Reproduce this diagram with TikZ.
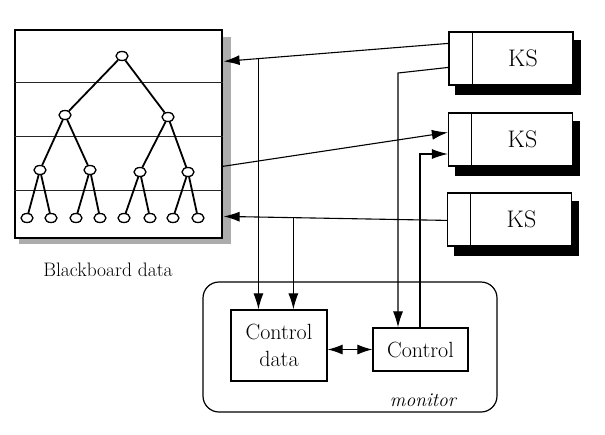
\documentclass[tikz,border=0pt]{standalone}
\usetikzlibrary{arrows.meta,shapes.geometric,backgrounds,calc}
\begin{document}
\begin{tikzpicture}[x=1pt,y=-1pt,
  tn/.style={draw,ellipse,minimum width=12pt,minimum height=9pt,inner sep=0pt,line width=1.3pt,fill=white},
  te/.style={line width=1.8pt},
  hl/.style={line width=1pt,black!85},
  ksbox/.style={draw,line width=1.2pt,fill=white,minimum width=124pt,minimum height=53pt,inner sep=0pt,font=\fontsize{24}{28}\selectfont},
  box/.style={draw,line width=1.2pt,fill=white,inner sep=0pt,align=center,font=\fontsize{22}{27}\selectfont},
  ar/.style={-{Latex[length=16pt,width=10pt]},line width=1.1pt},
  dar/.style={{Latex[length=15pt,width=10pt]}-{Latex[length=15pt,width=10pt]},line width=1.1pt},
  ksshadow/.style={fill=black},
  bbshadow/.style={fill=gray!65}
]
\useasboundingbox (0,0) rectangle (605,434);

% Blackboard
\node[draw,line width=1.2pt,fill=white,minimum width=207pt,minimum height=208pt,inner sep=0pt] (bb) at (118.5,134) {};
\begin{scope}[on background layer]
  \fill[bbshadow] ([shift={(5,8)}]bb.north west) rectangle ([shift={(8,5)}]bb.south east);
\end{scope}
\draw[hl] ($(bb.north west)+(0,53)$) -- ($(bb.north east)+(0,53)$);
\draw[hl] ($(bb.north west)+(0,107)$) -- ($(bb.north east)+(0,107)$);
\draw[hl] ($(bb.north west)+(0,161)$) -- ($(bb.north east)+(0,161)$);

% Tree
\node[tn] (r) at (122,56) {};
\node[tn] (l) at (65,115) {};
\node[tn] (rr) at (168,117) {};
\node[tn] (ll) at (40,170) {};
\node[tn] (lr) at (90,170) {};
\node[tn] (rl) at (140,172) {};
\node[tn] (rrr) at (188,172) {};
\node[tn] (b1) at (27,218) {};
\node[tn] (b2) at (51,218) {};
\node[tn] (b3) at (76,218) {};
\node[tn] (b4) at (100,218) {};
\node[tn] (b5) at (124,218) {};
\node[tn] (b6) at (150,218) {};
\node[tn] (b7) at (173,218) {};
\node[tn] (b8) at (198,218) {};
\draw[te] (r) -- (l); \draw[te] (r) -- (rr);
\draw[te] (l) -- (ll); \draw[te] (l) -- (lr);
\draw[te] (rr) -- (rl); \draw[te] (rr) -- (rrr);
\draw[te] (ll) -- (b1); \draw[te] (ll) -- (b2);
\draw[te] (lr) -- (b3); \draw[te] (lr) -- (b4);
\draw[te] (rl) -- (b5); \draw[te] (rl) -- (b6);
\draw[te] (rrr) -- (b7); \draw[te] (rrr) -- (b8);

\node[font=\fontsize{19.5}{24}\selectfont] (bbl) at (108,270) {Blackboard data};

% KS boxes
\node[ksbox] (ks1) at (511,58.5) {\hspace{24pt}KS};
\node[ksbox] (ks2) at (510.5,139.5) {\hspace{24pt}KS};
\node[ksbox] (ks3) at (509.5,219.5) {\hspace{24pt}KS};
\begin{scope}[on background layer]
  \foreach \k in {ks1,ks2,ks3}{
    \fill[ksshadow] ([shift={(7,9)}]\k.north west) rectangle ([shift={(7,9)}]\k.south east);
  }
\end{scope}
\foreach \k in {ks1,ks2,ks3}{
  \draw[line width=1pt] ([xshift=24pt]\k.north west) -- ([xshift=24pt]\k.south west);
}

% Monitor
\node[draw,line width=1.2pt,rounded corners=16pt,minimum width=294pt,minimum height=130pt,inner sep=0pt] (mon) at (350,347) {};
\node[box,minimum width=96pt,minimum height=71pt] (cd) at (279,345.5) {Control\\data};
\node[box,minimum width=95pt,minimum height=43pt] (ctl) at (420.5,349.5) {Control};
\node[font=\itshape\fontsize{19.5}{24}\selectfont] (mlab) at (423,400) {monitor};

% Connectors
\draw[ar] ($(ks1.north west)+(0,12)$) coordinate (a1s) -- ($(bb.north east)+(1,32)$) coordinate (a1e);
\draw[ar] ($(bb.north east)+(0,137)$) -- ($(ks2.north west)+(0,20)$);
\draw[ar] ($(ks3.north west)+(0,28)$) coordinate (a3s) -- ($(bb.north east)+(1,187)$) coordinate (a3e);
\coordinate (j1) at ($(a1s)!0.845!(a1e)$);
\coordinate (j2) at ($(a3s)!0.6875!(a3e)$);
\draw[ar] (j1) -- (j1 |- cd.north);
\draw[ar] (j2) -- (j2 |- cd.north);
\coordinate (c6) at (398,73);
\draw[ar] ($(ks1.north west)+(0,36)$) -- (c6) -- (c6 |- ctl.north);
\coordinate (c7) at (420,154);
\draw[ar] (c7 |- ctl.north) -- (c7) -- (c7 -| ks2.west);
\draw[dar] (cd.east |- ctl.west) -- (ctl.west);
\end{tikzpicture}
\end{document}
